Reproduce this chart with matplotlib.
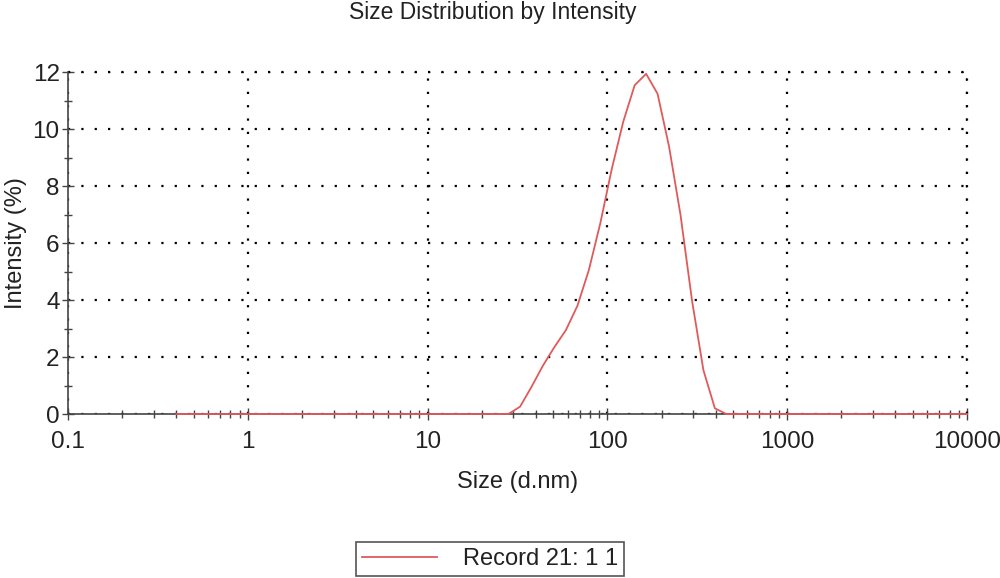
import numpy as np
import matplotlib
matplotlib.use('Agg')
import matplotlib.pyplot as plt
from matplotlib.ticker import FixedLocator, NullFormatter, MultipleLocator

plt.rcParams['font.family'] = ['Liberation Sans', 'DejaVu Sans']

# Size bins (d.nm) et intensités (%)
taille = [0.4, 28.2, 32.7, 37.8, 43.8, 50.7, 58.8, 68.1, 78.8, 91.3, 105.7,
          122.4, 141.8, 164.2, 190.1, 220.2, 255.0, 295.3, 342.0, 396.1,
          458.7, 10000]
intensite = [0, 0, 0.26, 0.95, 1.7, 2.35, 2.95, 3.8, 5.05, 6.7, 8.6,
             10.26, 11.55, 11.95, 11.25, 9.4, 7.0, 4.0, 1.54, 0.2,
             0, 0]

x_ticks = [0.1, 1, 10, 100, 1000, 10000]
x_labels = ['0.1', '1', '10', '100', '1000', '10000']
nom_serie = 'Record 21: 1 1'

fig = plt.figure(figsize=(10, 5.78), dpi=100)
ax = fig.add_axes([0.068, 0.2837, 0.899, 0.591])

ax.plot(taille, intensite, color='#e05a5a', lw=1.3, label=nom_serie,
        zorder=5, clip_on=False)

ax.set_xscale('log')
ax.set_xlim(0.1, 10000)
ax.set_ylim(0, 12)

ax.xaxis.set_major_locator(FixedLocator(x_ticks))
ax.set_xticklabels(x_labels)
ax.xaxis.set_minor_locator(matplotlib.ticker.LogLocator(base=10, subs=np.arange(2, 10)))
ax.xaxis.set_minor_formatter(NullFormatter())
ax.yaxis.set_major_locator(MultipleLocator(2))
ax.yaxis.set_minor_locator(MultipleLocator(1))

for s in ['top', 'right']:
    ax.spines[s].set_visible(False)
for s in ['left', 'bottom']:
    ax.spines[s].set_color('#444444')
    ax.spines[s].set_linewidth(1.2)

ax.tick_params(which='major', direction='inout', length=8, width=1, color='#444444',
               labelsize=17.5, pad=2, labelcolor='#222222')
ax.tick_params(which='minor', direction='inout', length=6, width=1, color='#444444')
ax.tick_params(axis='x', which='major', pad=8)

ax.grid(True, which='major', color='black', linestyle=(0, (1, 5)), lw=1.6)
# lignes de grille au bord haut et droit
ax.axhline(12, color='black', linestyle=(0, (1, 5)), lw=1.6, clip_on=False)
ax.axvline(10000, color='black', linestyle=(0, (1, 5)), lw=1.6, clip_on=False)

fig.text(0.493, 0.978, 'Size Distribution by Intensity', ha='center', va='center',
         fontsize=16.5, color='#222222')
ax.set_xlabel('Size (d.nm)', fontsize=17, labelpad=13, color='#222222')
ax.set_ylabel('Intensity (%)', fontsize=17, labelpad=4, color='#222222')

leg = fig.legend(loc='center', bbox_to_anchor=(0.49, 0.033), fontsize=17,
                 handlelength=3.2, handletextpad=1.1, fancybox=False,
                 edgecolor='#555555', framealpha=1, borderpad=0.25,
                 borderaxespad=0)
leg.get_frame().set_linewidth(1.2)
for t in leg.get_texts():
    t.set_color('#222222')

plt.savefig('out.png', dpi=100)
